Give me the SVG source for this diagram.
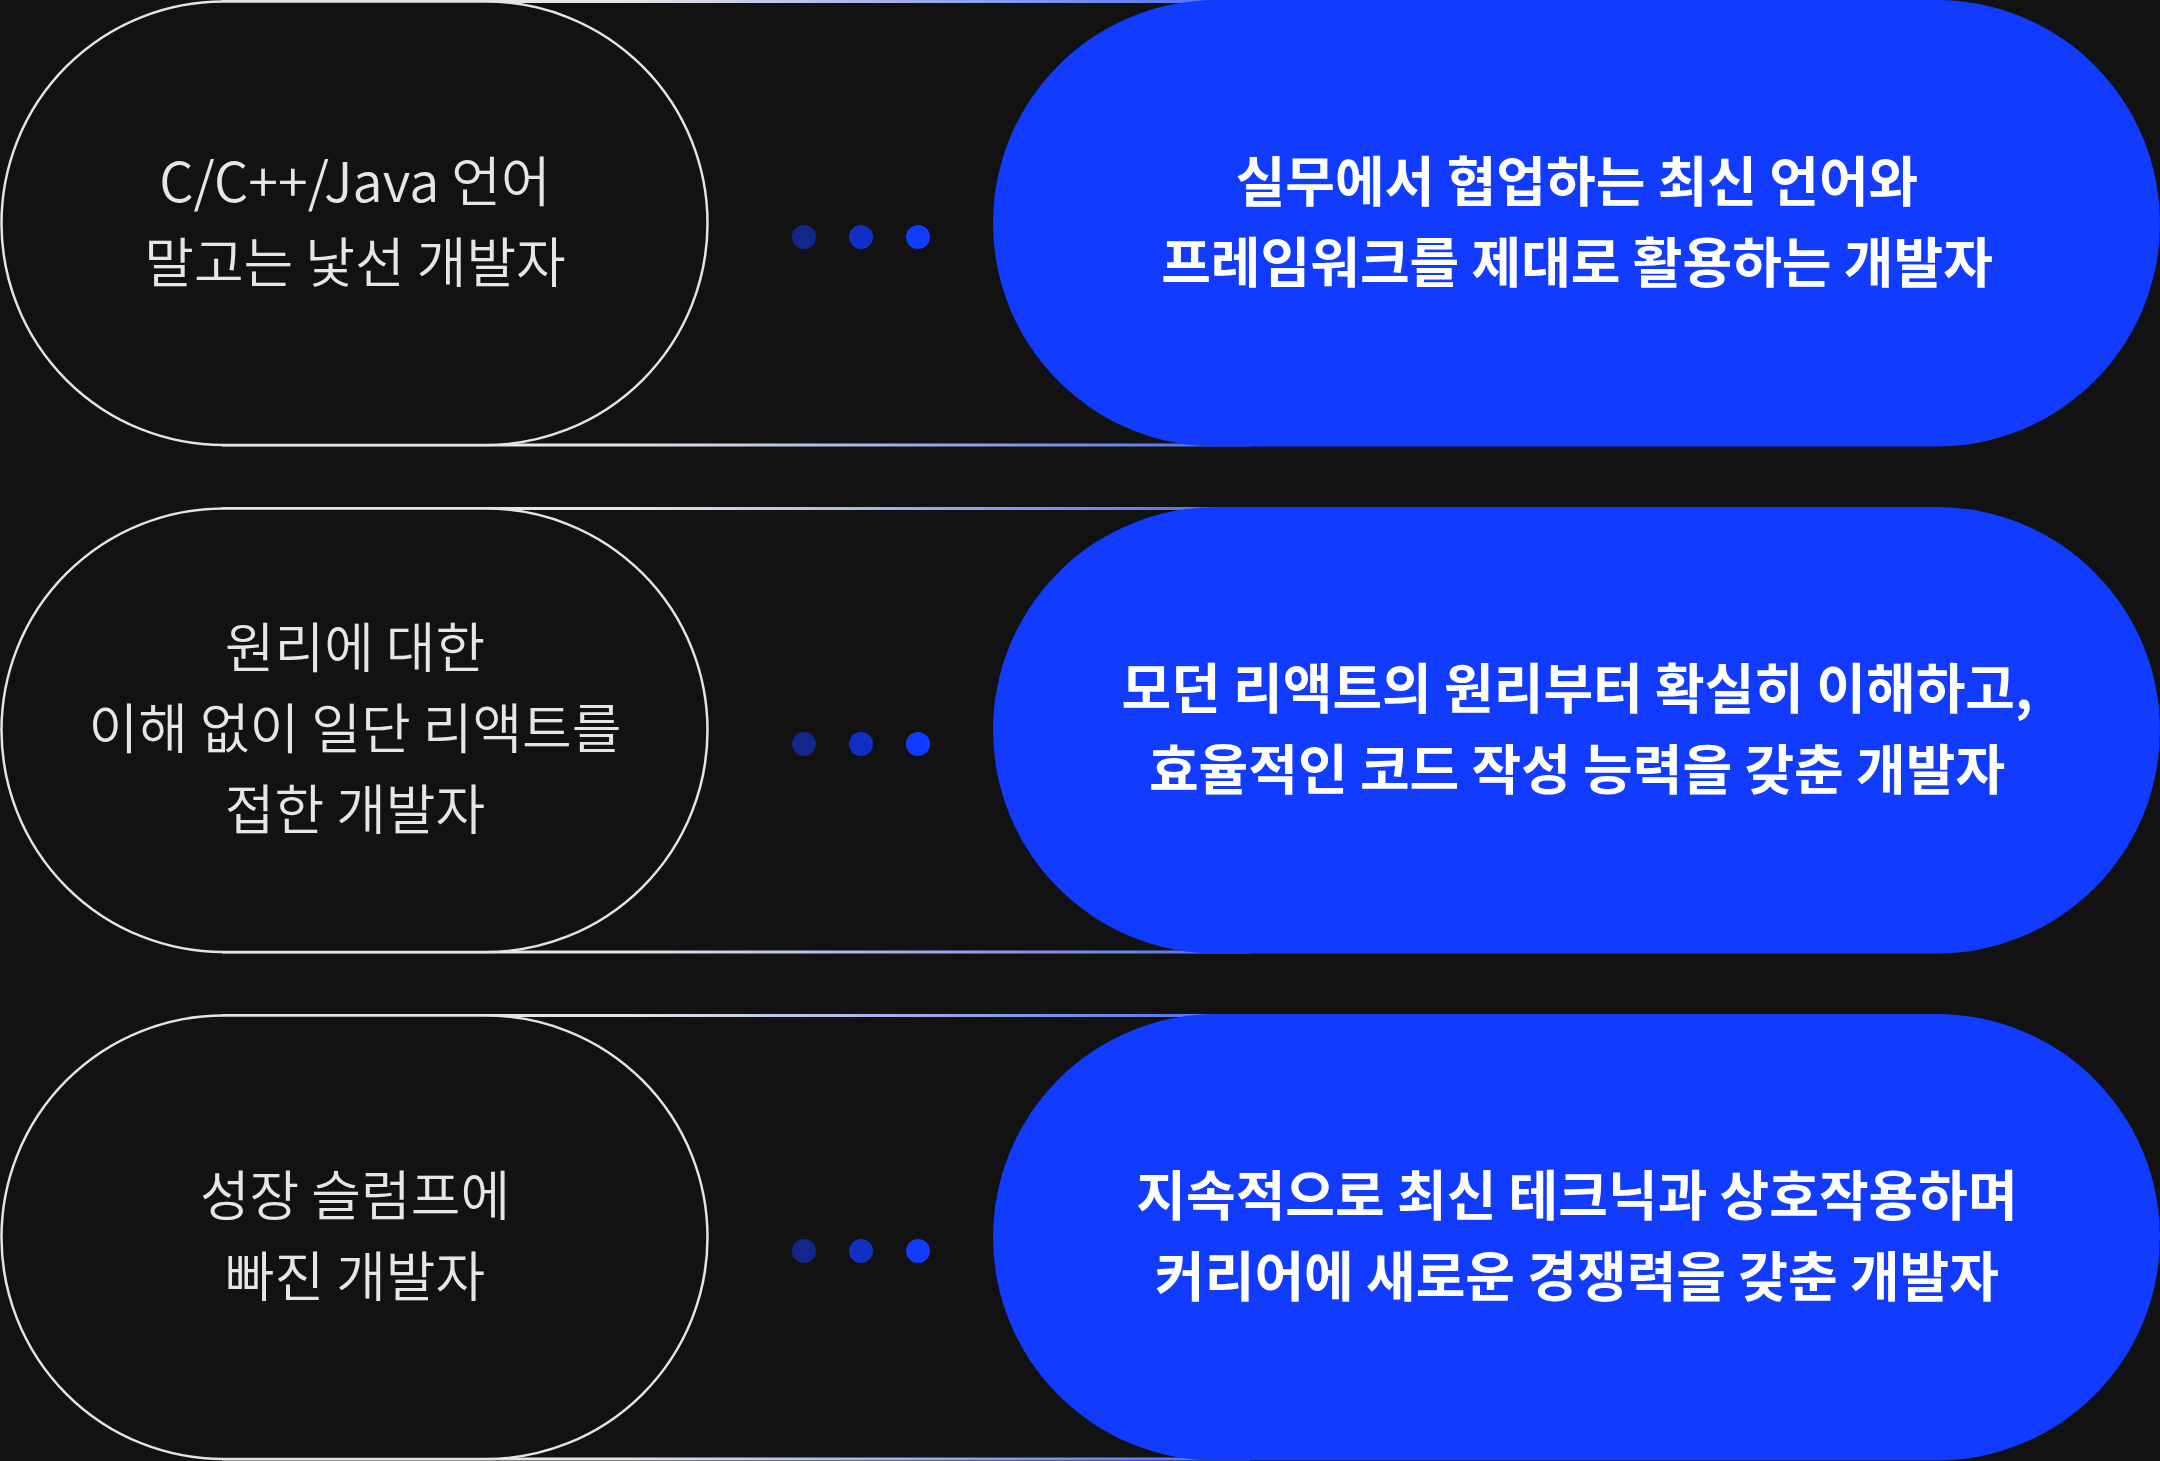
<svg xmlns="http://www.w3.org/2000/svg" width="2160" height="1461" viewBox="0 0 2160 1461">
  <defs>
    <linearGradient id="lineGrad" gradientUnits="userSpaceOnUse" x1="620" y1="0" x2="1250" y2="0">
      <stop offset="0" stop-color="#e6e6e6"/>
      <stop offset="1" stop-color="#4a6cf0"/>
    </linearGradient>
    <style>
      .bg { fill: #121212; }
      .left { fill: #121212; stroke: #e4e4e4; stroke-width: 2.5; }
      .right { fill: #113bff; }
      .rail { stroke: url(#lineGrad); stroke-width: 2.8; fill: none; }
      .dot { fill: #113bff; }
      .lt { font-family: "Noto Sans CJK KR", "Noto Sans", sans-serif; font-size: 54px; font-weight: 350; fill: #e6e6e6; text-anchor: middle; }
      .rt { font-family: "Noto Sans CJK KR", "Noto Sans", sans-serif; font-size: 54px; font-weight: 700; fill: #ffffff; text-anchor: middle; }
    </style>
  </defs>
  <rect class="bg" x="0" y="0" width="2160" height="1461"/>

  <g id="connectors">
    <path class="rail" d="M222 1.5H1250M222 445H1250"/>
    <path class="rail" d="M222 508.5H1250M222 952H1250"/>
    <path class="rail" d="M222 1015.5H1250M222 1459H1250"/>
    <circle class="dot" cx="804" cy="237" r="12" fill-opacity="0.5"/>
    <circle class="dot" cx="861" cy="237" r="12" fill-opacity="0.75"/>
    <circle class="dot" cx="918" cy="237" r="12"/>
    <circle class="dot" cx="804" cy="744" r="12" fill-opacity="0.5"/>
    <circle class="dot" cx="861" cy="744" r="12" fill-opacity="0.75"/>
    <circle class="dot" cx="918" cy="744" r="12"/>
    <circle class="dot" cx="804" cy="1251" r="12" fill-opacity="0.5"/>
    <circle class="dot" cx="861" cy="1251" r="12" fill-opacity="0.75"/>
    <circle class="dot" cx="918" cy="1251" r="12"/>
  </g>

  <g id="from-1">
    <rect class="left" x="1.5" y="1.5" width="706" height="443.5" rx="221.75"/>
    <text class="lt" x="355" y="202">C/C++/Java 언어</text>
    <text class="lt" x="355" y="283">말고는 낯선 개발자</text>
  </g>
  <g id="to-1">
    <rect class="right" x="993" y="0" width="1167" height="446.5" rx="223.25"/>
    <text class="rt" x="1577" y="202">실무에서 협업하는 최신 언어와</text>
    <text class="rt" x="1577" y="283">프레임워크를 제대로 활용하는 개발자</text>
  </g>

  <g id="from-2">
    <rect class="left" x="1.5" y="508.5" width="706" height="443.5" rx="221.75"/>
    <text class="lt" x="355" y="668">원리에 대한</text>
    <text class="lt" x="355" y="749">이해 없이 일단 리액트를</text>
    <text class="lt" x="355" y="830">접한 개발자</text>
  </g>
  <g id="to-2">
    <rect class="right" x="993" y="507" width="1167" height="446.5" rx="223.25"/>
    <text class="rt" x="1577" y="709">모던 리액트의 원리부터 확실히 이해하고,</text>
    <text class="rt" x="1577" y="790">효율적인 코드 작성 능력을 갖춘 개발자</text>
  </g>

  <g id="from-3">
    <rect class="left" x="1.5" y="1015.5" width="706" height="443.5" rx="221.75"/>
    <text class="lt" x="355" y="1216">성장 슬럼프에</text>
    <text class="lt" x="355" y="1297">빠진 개발자</text>
  </g>
  <g id="to-3">
    <rect class="right" x="993" y="1014" width="1167" height="446.5" rx="223.25"/>
    <text class="rt" x="1577" y="1216">지속적으로 최신 테크닉과 상호작용하며</text>
    <text class="rt" x="1577" y="1297">커리어에 새로운 경쟁력을 갖춘 개발자</text>
  </g>
</svg>
